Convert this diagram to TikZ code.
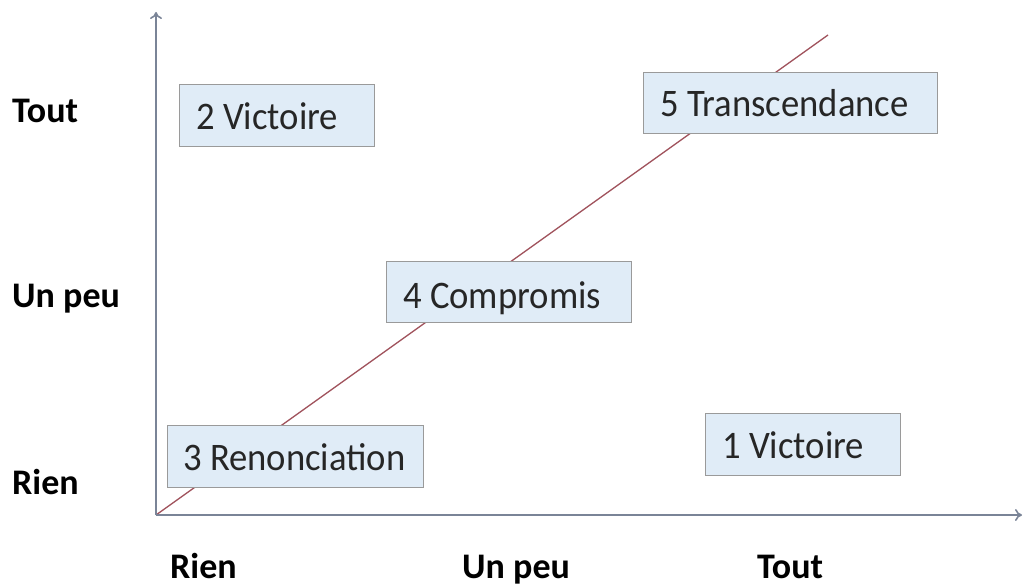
\documentclass[tikz,border=0pt]{standalone}
\usepackage{fontspec}
\setmainfont{Carlito}
\newfontfamily\boxfont[FakeStretch=0.94]{Carlito}
\usetikzlibrary{arrows.meta}
\definecolor{axiscol}{HTML}{7A8497}
\definecolor{diagcol}{HTML}{A0525C}
\definecolor{boxfill}{HTML}{E0ECF7}
\definecolor{boxline}{HTML}{9A9A9A}
\definecolor{txt}{HTML}{262626}
\begin{document}
\begin{tikzpicture}[x=1pt,y=-1pt,
  axis/.style={draw=axiscol,line width=1.6pt,-{To[length=7pt,width=12pt]}},
  diag/.style={draw=diagcol,line width=1.3pt},
  qbox/.style={draw=boxline,fill=boxfill,line width=1.3pt,anchor=north west,inner sep=0pt},
  qtext/.style={anchor=base west,inner sep=0pt,text=txt,font=\boxfont\fontsize{39}{42}\selectfont},
  axlab/.style={anchor=base west,inner sep=0pt,text=black,font=\bfseries\fontsize{36}{38}\selectfont}]
\useasboundingbox (0,0) rectangle (1024,588);
\coordinate (O) at (156,515);
\coordinate (Ytop) at (156,12);
\coordinate (Xend) at (1022,515);
\coordinate (Dend) at (828,35);
\draw[diag] (O) -- (Dend);
\draw[axis] (O) -- (Ytop);
\draw[axis] (O) -- (Xend);
% boxes
\node[qbox,minimum width=195pt,minimum height=62pt] (b2) at (179,84) {};
\node[qtext] (t2) at (196,130) {2 Victoire};
\node[qbox,minimum width=294pt,minimum height=61pt] (b5) at (643,72) {};
\node[qtext] (t5) at (660,117) {5 Transcendance};
\node[qbox,minimum width=245pt,minimum height=61pt] (b4) at (386,261) {};
\node[qtext] (t4) at (403,308) {4 Compromis};
\node[qbox,minimum width=256pt,minimum height=62pt] (b3) at (167,425) {};
\node[qtext] (t3) at (183,470) {3 Renonciation};
\node[qbox,minimum width=195pt,minimum height=62pt] (b1) at (705,413) {};
\node[qtext] (t1) at (722,458) {1 Victoire};
% axis labels
\node[axlab] (yl3) at (12,123) {Tout};
\node[axlab] (yl2) at (12,307) {Un peu};
\node[axlab] (yl1) at (12,494) {Rien};
\node[axlab] (xl1) at (170,578) {Rien};
\node[axlab] (xl2) at (462,578) {Un peu};
\node[axlab] (xl3) at (757,578) {Tout};
\end{tikzpicture}
\end{document}
